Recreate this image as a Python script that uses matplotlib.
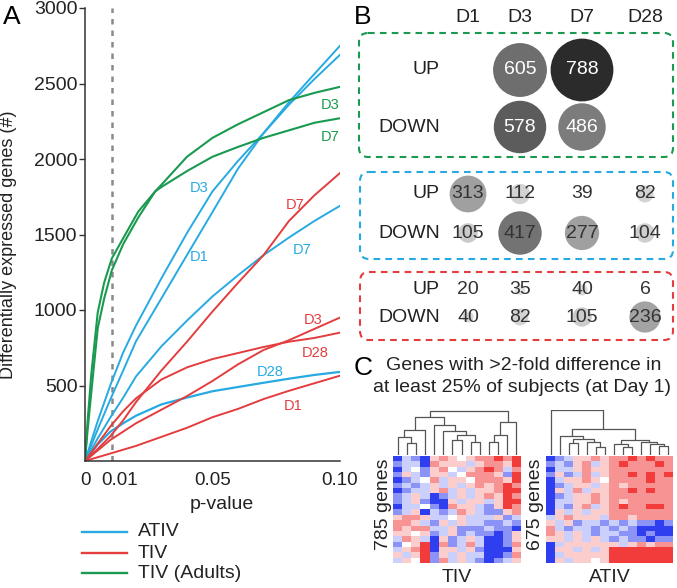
import numpy as np
import matplotlib
matplotlib.use("Agg")
from matplotlib import pyplot as plt
from matplotlib.patches import Circle, FancyBboxPatch
from matplotlib.colors import LinearSegmentedColormap

plt.rcParams['font.family'] = ['Liberation Sans', 'DejaVu Sans']

W, H = 677, 588
BLUE = '#27aae1'
RED = '#e33d3f'
GREEN = '#1a9a50'
DARK = '#222222'

# ---- panel A: number of DE genes vs p-value cutoff ----
p_grid = [0, 0.005, 0.01, 0.015, 0.02, 0.03, 0.04, 0.05, 0.06, 0.07, 0.08, 0.09, 0.1]
ativ_d1 = [0, 210, 410, 600, 793, 1078, 1364, 1649, 1936, 2170, 2360, 2530, 2690]
ativ_d3 = [0, 265, 505, 720, 897, 1211, 1510, 1786, 1987, 2171, 2376, 2564, 2750]
ativ_d7 = [0, 150, 290, 420, 560, 760, 930, 1090, 1230, 1363, 1480, 1590, 1690]
ativ_d28 = [0, 110, 195, 250, 300, 375, 420, 462, 490, 518, 545, 570, 590]
tiv_d1 = [0, 25, 50, 75, 100, 160, 220, 290, 345, 410, 465, 515, 565]
tiv_d3 = [0, 70, 140, 195, 250, 340, 430, 530, 640, 735, 800, 875, 950]
tiv_d7 = [0, 80, 165, 270, 390, 600, 790, 990, 1180, 1363, 1590, 1760, 1907]
tiv_d28 = [0, 115, 230, 330, 415, 540, 620, 675, 715, 755, 790, 815, 850]

adult_p = [0, 0.001, 0.0025, 0.005, 0.0075, 0.0105, 0.015, 0.0209, 0.0275,
           0.03, 0.04, 0.05, 0.06, 0.07, 0.08, 0.09, 0.1]
adult_d3 = [0, 260, 580, 985, 1180, 1341, 1476, 1652, 1785,
            1830, 2015, 2140, 2230, 2310, 2390, 2438, 2478]
adult_d7 = [0, 200, 460, 880, 1075, 1262, 1437, 1613, 1785,
            1815, 1920, 2015, 2080, 2140, 2190, 2240, 2270]

# ---- panel B: up/down gene counts per day ----
days = ['D1', 'D3', 'D7', 'D28']
adult_up = [None, 605, 788, None]
adult_down = [None, 578, 486, None]
ativ_up = [313, 112, 39, 82]
ativ_down = [105, 417, 277, 104]
tiv_up = [20, 35, 40, 6]
tiv_down = [40, 82, 105, 236]

# circle shades (None = no circle)
adult_up_shade = [None, '#6e6e6e', '#2b2b2b', None]
adult_down_shade = [None, '#5c5c5c', '#7c7c7c', None]
ativ_up_shade = ['#a0a0a0', '#d3d3d3', None, '#d3d3d3']
ativ_down_shade = ['#cacaca', '#737373', '#a0a0a0', '#cfcfcf']
tiv_up_shade = [None, '#e2e2e2', '#dadada', None]
tiv_down_shade = ['#d6d6d6', '#d3d3d3', '#cccccc', '#a3a3a3']

# ---- panel C: heatmaps (coarse reading), codes -> values ----
codes = {'B': -1.0, 'b': -0.55, 'c': -0.25, '.': 0.0, 'p': 0.25, 'r': 0.55, 'R': 1.0}
tiv_rows = [
    "BcbBprp.prrRrR", "bccBrpppcprrpR", "Bc.bpr.cprRrcr", "bpcbppc.rrrpbR",
    "Bbc.rcpp.rrrpR", "bcbcpcpcprprRr", "BbccprcpcpprRR", "bcpcBbcpcprpRr",
    "bcpbBBpcppcpRR", "Bcc.bBrppcbpRr", "bcpBcbcrpcbbpr", "prrpcc.pcccpbc",
    "rrpcbpcpccbbcb", "rprrccpbbbcbbB", "pp.pbcpbcbbBbp", "crpcBpbcpcBBbp",
    "b.pRBrbcrcBBbr", "cprRBppcpbBBBp", "pcpRbpcpccBBbr", "cp.RbrcpcbBbcp",
]
ativ_rows = [
    "BbcpprprrRrRrr", "bcbprcprRrrrRr", "Bccprpprrrrrrr", "bpbcrcprrRrRrR",
    "Bcpprp.rrrrRrr", "Bbcppcprprrrrr", "BpcrcpprrRrRrr", "Bbcpprprrrrrrr",
    "Bccpprprprrrrr", "BcbprcprRrrRRr", "Bpcpcpprrrrrrr", "cprpppcrrprrrr",
    "pcpbccbcbcbbBb", "rcbccbcbcbBBBB", "rpcpcbccbbBbBB", "ppcpcpcbcbbBbb",
    "Bcppppppcprprr", "BppcpcpRRRRRRR", "BcpppppRRRRRRR", "Bpcpp.pRRRRRRR",
]
# dendrogram merges: (left id, right id, height); new ids count up from 14
tiv_merges = [(1, 2, 11.7), (0, 14, 18.3), (15, 3, 25.7), (6, 7, 15), (8, 9, 13),
              (17, 18, 20), (5, 19, 24), (4, 20, 30), (16, 21, 38), (10, 11, 13),
              (23, 12, 20), (24, 13, 33), (22, 25, 44)]
ativ_merges = [(2, 3, 12.3), (5, 6, 8.3), (4, 15, 13.3), (14, 16, 16), (1, 17, 19),
               (8, 9, 8.3), (7, 19, 10.7), (12, 13, 9), (11, 21, 11), (10, 22, 13),
               (20, 23, 15), (18, 24, 26.7), (0, 25, 45)]


def px_axes(fig, x0, y0, x1, y1):
    return fig.add_axes([x0 / W, (H - y1) / H, (x1 - x0) / W, (y1 - y0) / H])


def draw_dendro(ax, merges, n):
    xs = {i: float(i) for i in range(n)}
    hs = {i: 0.0 for i in range(n)}
    k = n
    for a, b, h in merges:
        ax.plot([xs[a], xs[a], xs[b], xs[b]], [hs[a], h, h, hs[b]],
                color='#555555', lw=0.9, solid_capstyle='butt')
        xs[k] = (xs[a] + xs[b]) / 2
        hs[k] = h
        k += 1
    ax.set_xlim(-0.5, n - 0.5)
    ax.set_ylim(0, 45.5)
    ax.axis('off')


fig = plt.figure(figsize=(W / 100, H / 100), dpi=100)

# ---------- panel A ----------
ax = px_axes(fig, 85, 8, 340, 461)
ax.plot(p_grid, ativ_d3, color=BLUE, lw=1.4)
ax.plot(p_grid, ativ_d1, color=BLUE, lw=1.4)
ax.plot(p_grid, ativ_d7, color=BLUE, lw=1.4)
ax.plot(p_grid, ativ_d28, color=BLUE, lw=1.6)
ax.plot(p_grid, tiv_d1, color=RED, lw=1.4)
ax.plot(p_grid, tiv_d3, color=RED, lw=1.4)
ax.plot(p_grid, tiv_d7, color=RED, lw=1.4)
ax.plot(p_grid, tiv_d28, color=RED, lw=1.4)
ax.plot(adult_p, adult_d3, color=GREEN, lw=1.5)
ax.plot(adult_p, adult_d7, color=GREEN, lw=1.5)
ax.axvline(0.0105, color='#8a8a8a', lw=1.8, linestyle=(0, (2.2, 2.4)), zorder=0)

ax.set_xlim(0, 0.1)
ax.set_ylim(0, 3000)
ax.set_yticks([500, 1000, 1500, 2000, 2500, 3000])
ax.set_xticks([0, 0.0137, 0.05, 0.1])
ax.set_xticklabels(['0', '0.01', '0.05', '0.10'])
ax.tick_params(axis='y', labelsize=14, length=4, width=1, color='#333333', pad=1.5,
               labelcolor=DARK)
ax.tick_params(axis='x', labelsize=13.5, length=0, pad=8, labelcolor=DARK)
for s in ['top', 'right']:
    ax.spines[s].set_visible(False)
for s in ['left', 'bottom']:
    ax.spines[s].set_color('#333333')
    ax.spines[s].set_linewidth(1.1)
ax.set_ylabel('Differentially expressed genes (#)', fontsize=13, color=DARK)
ax.yaxis.set_label_coords(-0.268, 0.477)
ax.set_xlabel('p-value', fontsize=14, color=DARK)
ax.xaxis.set_label_coords(0.537, -0.077)

lbl = dict(fontsize=10.5, ha='center', va='center')
ax.text(0.0961, 2357, 'D3', color=GREEN, **lbl)
ax.text(0.0961, 2145, 'D7', color=GREEN, **lbl)
ax.text(0.0447, 1807, 'D3', color=BLUE, **lbl)
ax.text(0.0447, 1350, 'D1', color=BLUE, **lbl)
ax.text(0.0851, 1397, 'D7', color=BLUE, **lbl)
ax.text(0.0725, 589, 'D28', color=BLUE, **lbl)
ax.text(0.0824, 1695, 'D7', color=RED, **lbl)
ax.text(0.0894, 933, 'D3', color=RED, **lbl)
ax.text(0.0902, 715, 'D28', color=RED, **lbl)
ax.text(0.0816, 364, 'D1', color=RED, **lbl)

# ---------- panel C heatmaps ----------
cmap = LinearSegmentedColormap.from_list('bwr2', ['#2f3ff0', '#ffffff', '#f23c3c'])
tiv_mat = np.array([[codes[ch] for ch in row] for row in tiv_rows])
ativ_mat = np.array([[codes[ch] for ch in row] for row in ativ_rows])

hm1 = px_axes(fig, 393, 456, 521, 563)
hm1.imshow(tiv_mat, cmap=cmap, vmin=-1, vmax=1, aspect='auto', interpolation='nearest')
hm1.axis('off')
hm2 = px_axes(fig, 546, 456, 673, 563)
hm2.imshow(ativ_mat, cmap=cmap, vmin=-1, vmax=1, aspect='auto', interpolation='nearest')
hm2.axis('off')

dg1 = px_axes(fig, 393, 410, 521, 455)
draw_dendro(dg1, tiv_merges, len(tiv_rows[0]))
dg2 = px_axes(fig, 546, 410, 673, 455)
draw_dendro(dg2, ativ_merges, len(ativ_rows[0]))

# ---------- overlay in pixel coordinates ----------
ov = fig.add_axes([0, 0, 1, 1])
ov.set_xlim(0, W)
ov.set_ylim(H, 0)
ov.axis('off')

ov.text(12, 17, 'A', fontsize=19, ha='center', va='center', color='black')
ov.text(363, 17, 'B', fontsize=19, ha='center', va='center', color='black')
ov.text(363, 368, 'C', fontsize=19, ha='center', va='center', color='black')

# legend
for yy, name, col in [(532, 'ATIV', BLUE), (553, 'TIV', RED), (573, 'TIV (Adults)', GREEN)]:
    ov.plot([82, 127], [yy, yy], color=col, lw=1.7)
    ov.text(138, yy, name, fontsize=14, ha='left', va='center', color=DARK)

# panel B
col_x = [468, 520, 582, 645]
for x, d in zip(col_x, days):
    ov.text(x, 18, d, fontsize=14, ha='center', va='center', color=DARK)

boxes = [(359, 33, 673, 157, GREEN), (360, 172, 673, 259, BLUE), (360, 272, 673, 340, RED)]
for x0, y0, x1, y1, col in boxes:
    ov.add_patch(FancyBboxPatch((x0, y0), x1 - x0, y1 - y0,
                                boxstyle='round,pad=0,rounding_size=9', fill=False,
                                ec=col, lw=1.5, linestyle=(0, (3.2, 2.5))))

groups = [
    (70, 127, adult_up, adult_down, adult_up_shade, adult_down_shade, 'white'),
    (194, 233, ativ_up, ativ_down, ativ_up_shade, ativ_down_shade, '#333333'),
    (290, 317, tiv_up, tiv_down, tiv_up_shade, tiv_down_shade, '#333333'),
]
for y_up, y_dn, ups, dns, us, ds, tcol in groups:
    ov.text(440, y_up, 'UP', fontsize=14, ha='right', va='center', color=DARK)
    ov.text(440, y_dn, 'DOWN', fontsize=14, ha='right', va='center', color=DARK)
    for yy, vals, shades in [(y_up, ups, us), (y_dn, dns, ds)]:
        for x, v, sh in zip(col_x, vals, shades):
            if v is None:
                continue
            if sh is not None:
                ov.add_patch(Circle((x, yy), 0.656 * v ** 0.58, color=sh, lw=0, zorder=1))
            ov.text(x, yy, str(v), fontsize=14, ha='center', va='center', color=tcol, zorder=2)

# panel C texts
ov.text(524, 365, 'Genes with >2-fold difference in', fontsize=14, ha='center',
        va='center', color=DARK)
ov.text(522, 388, 'at least 25% of subjects (at Day 1)', fontsize=14, ha='center',
        va='center', color=DARK)
ov.text(383, 504, '785 genes', fontsize=14, rotation=90, ha='center', va='center', color=DARK)
ov.text(535, 504, '675 genes', fontsize=14, rotation=90, ha='center', va='center', color=DARK)
ov.text(457, 578, 'TIV', fontsize=14, ha='center', va='center', color=DARK)
ov.text(610, 578, 'ATIV', fontsize=14, ha='center', va='center', color=DARK)

fig.savefig('out.png', dpi=100)
